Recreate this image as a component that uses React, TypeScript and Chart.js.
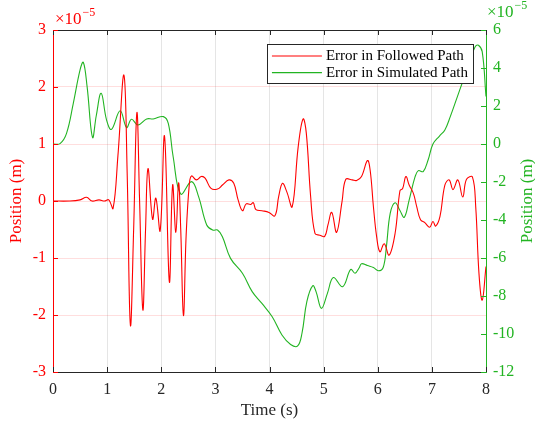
import React, { useEffect, useRef } from "react";
import { Chart, registerables } from "chart.js";

Chart.register(...registerables);

const followedTime = [0, 0.3, 0.5, 0.62, 0.72, 0.85, 0.95, 1.03, 1.11, 1.2, 1.31, 1.37, 1.43, 1.49, 1.55, 1.6, 1.66, 1.71, 1.755, 1.84, 1.9, 1.98, 2.06, 2.15, 2.21, 2.27, 2.32, 2.36, 2.41, 2.46, 2.52, 2.56, 2.65, 2.74, 2.81, 2.92, 3.04, 3.13, 3.25, 3.34, 3.42, 3.5, 3.57, 3.65, 3.7, 3.75, 3.86, 3.99, 4.1, 4.17, 4.24, 4.32, 4.42, 4.53, 4.62, 4.68, 4.76, 4.84, 4.93, 5.02, 5.08, 5.15, 5.24, 5.34, 5.41, 5.53, 5.61, 5.7, 5.81, 5.86, 5.92, 5.98, 6.04, 6.12, 6.21, 6.32, 6.41, 6.46, 6.52, 6.58, 6.66, 6.72, 6.79, 6.87, 6.96, 7.02, 7.07, 7.15, 7.24, 7.32, 7.39, 7.48, 7.57, 7.64, 7.75, 7.81, 7.87, 7.93, 8.0];
const followedError = [0, 0, 0.02, 0.065, 0.0, 0.02, 0.0, 0.02, -0.13, 0.8, 2.21, 0.5, -2.18, -0.5, 1.55, 0, -1.91, -0.5, 0.57, -0.32, 0.05, -0.52, 1.14, -1.42, 0.28, -0.55, 0.32, -0.5, -2.01, -0.6, 0.31, 0.44, 0.37, 0.43, 0.4, 0.22, 0.21, 0.28, 0.37, 0.31, 0.02, -0.17, -0.05, -0.06, -0.03, -0.15, -0.17, -0.2, -0.26, 0.08, 0.31, 0.16, -0.1, 0.95, 1.44, 1.19, 0.08, -0.57, -0.6, -0.62, -0.42, -0.2, -0.55, -0.01, 0.38, 0.37, 0.36, 0.43, 0.71, 0.54, -0.1, -0.63, -0.89, -0.75, -0.95, -0.57, 0.18, 0.22, 0.43, 0.28, 0.13, -0.1, -0.33, -0.38, -0.46, -0.36, -0.44, -0.27, 0.28, 0.37, 0.2, 0.37, 0.07, 0.38, 0.42, -0.1, -1.27, -1.74, -1.15];

const simulatedTime = [0, 0.13, 0.25, 0.375, 0.5, 0.56, 0.63, 0.73, 0.8, 0.89, 0.99, 1.08, 1.24, 1.36, 1.45, 1.57, 1.73, 1.85, 2.04, 2.13, 2.22, 2.36, 2.56, 2.69, 2.84, 2.95, 3.04, 3.13, 3.28, 3.5, 3.68, 3.86, 4.05, 4.23, 4.39, 4.52, 4.6, 4.69, 4.8, 4.86, 4.96, 5.07, 5.18, 5.35, 5.5, 5.58, 5.66, 5.7, 5.81, 5.92, 6.01, 6.1, 6.16, 6.23, 6.32, 6.41, 6.49, 6.58, 6.69, 6.75, 6.84, 6.93, 7.02, 7.14, 7.24, 7.34, 7.46, 7.58, 7.71, 7.8, 7.86, 7.93, 8.0];
const simulatedError = [0, 0.02, 0.56, 2.14, 3.9, 4.3, 3.02, 0.35, 1.5, 2.67, 1.26, 0.77, 1.75, 0.87, 1.3, 1.0, 1.32, 1.32, 1.44, 1.08, -0.67, -2.63, -1.98, -2.77, -4.26, -4.53, -4.53, -4.88, -6.02, -6.8, -7.77, -8.39, -9.09, -10.05, -10.55, -10.63, -9.96, -8.3, -7.46, -7.77, -8.65, -7.86, -7.03, -7.51, -6.6, -6.8, -6.5, -6.3, -6.4, -6.5, -6.67, -6.5, -5.4, -3.65, -3.09, -3.5, -3.86, -2.95, -1.72, -1.4, -1.45, -0.84, 0.0, 0.42, 0.74, 1.44, 2.4, 3.37, 4.42, 5.12, 5.2, 4.86, 2.5];

const seriesLabels = ["Error in Followed Path", "Error in Simulated Path"];
const xTitle = "Time (s)";
const yTitle = "Position (m)";
const exponentBase = "×10";
const exponentPower = "−5";

const RED = "#ff0000";
const GREEN = "#22b422";
const DARK = "#262626";
const FONT = "'Liberation Serif', 'Times New Roman', serif";

const overlayPlugin = {
  id: "overlay",
  afterDatasetsDraw(chart: any) {
    const { ctx, chartArea } = chart;
    const xs = chart.scales.x;
    const yl = chart.scales.y;
    const yr = chart.scales.y2;
    ctx.save();
    ctx.strokeStyle = DARK;
    ctx.lineWidth = 1;
    ctx.beginPath();
    ctx.moveTo(chartArea.left, chartArea.top + 0.5);
    ctx.lineTo(chartArea.right, chartArea.top + 0.5);
    ctx.stroke();
    const tl = 5;
    xs.ticks.forEach((_: any, i: number) => {
      const px = Math.round(xs.getPixelForTick(i)) + 0.5;
      ctx.beginPath();
      ctx.moveTo(px, chartArea.bottom);
      ctx.lineTo(px, chartArea.bottom - tl);
      ctx.moveTo(px, chartArea.top);
      ctx.lineTo(px, chartArea.top + tl);
      ctx.stroke();
    });
    ctx.strokeStyle = RED;
    yl.ticks.forEach((_: any, i: number) => {
      const py = Math.round(yl.getPixelForTick(i)) + 0.5;
      ctx.beginPath();
      ctx.moveTo(chartArea.left, py);
      ctx.lineTo(chartArea.left + tl, py);
      ctx.stroke();
    });
    ctx.strokeStyle = GREEN;
    yr.ticks.forEach((_: any, i: number) => {
      const py = Math.round(yr.getPixelForTick(i)) + 0.5;
      ctx.beginPath();
      ctx.moveTo(chartArea.right, py);
      ctx.lineTo(chartArea.right - tl, py);
      ctx.stroke();
    });

    // legend
    ctx.font = `15px ${FONT}`;
    const textW = Math.max(...seriesLabels.map((s) => ctx.measureText(s).width));
    const boxW = 5 + 50 + 4 + textW + 5;
    const boxH = 39;
    const boxRight = chartArea.right - 13;
    const boxLeft = boxRight - boxW;
    const boxTop = chartArea.top + 14;
    ctx.fillStyle = "#ffffff";
    ctx.fillRect(boxLeft, boxTop, boxW, boxH);
    ctx.strokeStyle = DARK;
    ctx.lineWidth = 1;
    ctx.strokeRect(Math.round(boxLeft) + 0.5, boxTop + 0.5, Math.round(boxW), boxH);
    chart.data.datasets.forEach((ds: any, i: number) => {
      const cy = boxTop + 12 + i * 16.7;
      ctx.strokeStyle = ds.borderColor;
      ctx.lineWidth = 1.2;
      ctx.beginPath();
      ctx.moveTo(boxLeft + 5, cy);
      ctx.lineTo(boxLeft + 55, cy);
      ctx.stroke();
      ctx.fillStyle = "#000000";
      ctx.textBaseline = "middle";
      ctx.textAlign = "left";
      ctx.fillText(ds.label, boxLeft + 59, cy + 0.5);
    });

    const drawExp = (x: number, baseline: number, color: string) => {
      ctx.fillStyle = color;
      ctx.textBaseline = "alphabetic";
      ctx.textAlign = "left";
      ctx.font = `17px ${FONT}`;
      ctx.fillText(exponentBase, x, baseline);
      const w = ctx.measureText(exponentBase).width;
      ctx.font = `12px ${FONT}`;
      ctx.fillText(exponentPower, x + w + 1, baseline - 8);
    };
    drawExp(chartArea.left + 2, 24, RED);
    drawExp(chartArea.right + 1, 17, GREEN);

    ctx.save();
    ctx.translate(528, (chartArea.top + chartArea.bottom) / 2);
    ctx.rotate(-Math.PI / 2);
    ctx.fillStyle = GREEN;
    ctx.font = `17px ${FONT}`;
    ctx.textAlign = "center";
    ctx.textBaseline = "middle";
    ctx.fillText(yTitle, 0, 0);
    ctx.restore();
    ctx.restore();
  },
};

export default function App() {
  const ref = useRef<HTMLCanvasElement | null>(null);
  useEffect(() => {
    if (!ref.current) return;
    Chart.defaults.font.family = FONT;
    const chart = new Chart(ref.current, {
      type: "line",
      data: {
        datasets: [
          {
            label: seriesLabels[0],
            data: followedTime.map((t, i) => ({ x: t, y: followedError[i] })),
            borderColor: RED,
            backgroundColor: RED,
            borderWidth: 1.1,
            pointRadius: 0,
            tension: 0.4,
            yAxisID: "y",
          },
          {
            label: seriesLabels[1],
            data: simulatedTime.map((t, i) => ({ x: t, y: simulatedError[i] })),
            borderColor: GREEN,
            backgroundColor: GREEN,
            borderWidth: 1.1,
            pointRadius: 0,
            tension: 0.4,
            yAxisID: "y2",
          },
        ],
      },
      options: {
        responsive: false,
        animation: false,
        layout: { padding: { top: 30, left: 0, right: 0, bottom: 0 } },
        plugins: { legend: { display: false }, tooltip: { enabled: false } },
        scales: {
          x: {
            type: "linear",
            min: 0,
            max: 8,
            ticks: { stepSize: 1, color: DARK, font: { size: 16, family: FONT }, padding: 8 },
            grid: { color: "rgba(0,0,0,0.1)", drawTicks: false },
            border: { color: DARK },
            title: { display: true, text: xTitle, color: DARK, font: { size: 17, family: FONT }, padding: { top: 0, bottom: 1 } },
            afterFit: (s: any) => { s.height = 50; },
          },
          y: {
            position: "left",
            min: -3,
            max: 3,
            ticks: { stepSize: 1, color: RED, font: { size: 16, family: FONT }, padding: 7 },
            grid: { color: "rgba(255,0,0,0.13)", drawTicks: false },
            border: { color: RED },
            title: { display: true, text: yTitle, color: RED, font: { size: 17, family: FONT }, padding: { top: 6, bottom: 0 } },
            afterFit: (s: any) => { s.width = 53; },
          },
          y2: {
            position: "right",
            min: -12,
            max: 6,
            ticks: { stepSize: 2, color: GREEN, font: { size: 16, family: FONT }, padding: 7 },
            grid: { display: false, drawTicks: false },
            border: { color: GREEN },
            afterFit: (s: any) => { s.width = 49; },
          },
        },
      },
      plugins: [overlayPlugin],
    } as any);
    return () => chart.destroy();
  }, []);
  return (
    <div style={{ position: "absolute", left: 0, top: 0, width: 535, height: 422, background: "#fff" }}>
      <canvas ref={ref} width={535} height={422} style={{ width: 535, height: 422 }} />
    </div>
  );
}
